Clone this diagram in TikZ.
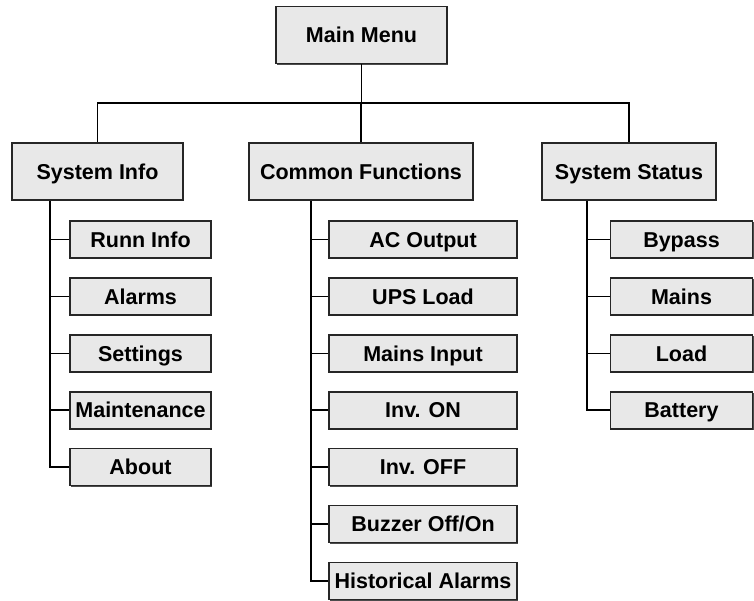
\documentclass[tikz,border=0pt]{standalone}
\usepackage{fontspec}
\setmainfont{Liberation Sans}
\usetikzlibrary{shadows,calc}
\definecolor{boxfill}{HTML}{E8E8E8}
\tikzset{
  menubox/.style={draw=black!85, line width=1.6pt, fill=boxfill, font=\fontsize{21.5}{24}\selectfont\bfseries,
    inner sep=0pt, text height=15.4pt, text depth=0pt,
    drop shadow={shadow xshift=1.2pt, shadow yshift=-1.2pt, fill=black!70, opacity=1}},
  topbox/.style={menubox, minimum height=57pt},
  kidbox/.style={menubox, minimum height=37pt},
  conn/.style={line width=1.6pt, draw=black}
}
\begin{document}
\begin{tikzpicture}[x=1pt,y=-1pt]
\useasboundingbox (0,0) rectangle (754,601);
\node[topbox, minimum width=171pt] (main) at (361.5,35) {Main Menu};
\node[topbox, minimum width=171pt] (sysinfo) at (97.5,171.5) {System Info};
\node[topbox, minimum width=224pt] (common) at (361,171.5) {Common Functions};
\node[topbox, minimum width=174pt] (status) at (629,171.5) {System Status};
\coordinate (bus) at (0,103);
% system info children
\foreach \n/\t [count=\i from 0] in {runn/Runn Info,alarms/Alarms,settings/Settings,maint/Maintenance,about/About}
  \node[kidbox, minimum width=141pt] (\n) at (140.5,{239.5+56.9*\i}) {\t};
\foreach \n/\t [count=\i from 0] in {acout/AC Output,upsload/UPS Load,mainsin/Mains Input,invon/Inv. ON,invoff/Inv. OFF,buzzer/{Buzzer Off/On},hist/Historical Alarms}
  \node[kidbox, minimum width=188pt] (\n) at (423,{239.5+56.9*\i}) {\t};
\foreach \n/\t [count=\i from 0] in {bypass/Bypass,mains/Mains,load/Load,battery/Battery}
  \node[kidbox, minimum width=142pt] (\n) at (681.5,{239.5+56.9*\i}) {\t};
% top connectors
\draw[conn] (main.south) -- (main.south |- bus);
\draw[conn] (sysinfo.north) -- (sysinfo.north |- bus) -- (status.north |- bus) -- (status.north);
\draw[conn] (common.north) -- (common.north |- bus);
% spines
\coordinate (si) at ($(sysinfo.south west)+(39,0)$);
\coordinate (cf) at ($(common.south west)+(63,0)$);
\coordinate (ss) at ($(status.south west)+(46,0)$);
\draw[conn] (si) |- (about.west);
\foreach \n in {runn,alarms,settings,maint} \draw[conn] (si |- \n.west) -- (\n.west);
\draw[conn] (cf) |- (hist.west);
\foreach \n in {acout,upsload,mainsin,invon,invoff,buzzer} \draw[conn] (cf |- \n.west) -- (\n.west);
\draw[conn] (ss) |- (battery.west);
\foreach \n in {bypass,mains,load} \draw[conn] (ss |- \n.west) -- (\n.west);
\end{tikzpicture}
\end{document}
